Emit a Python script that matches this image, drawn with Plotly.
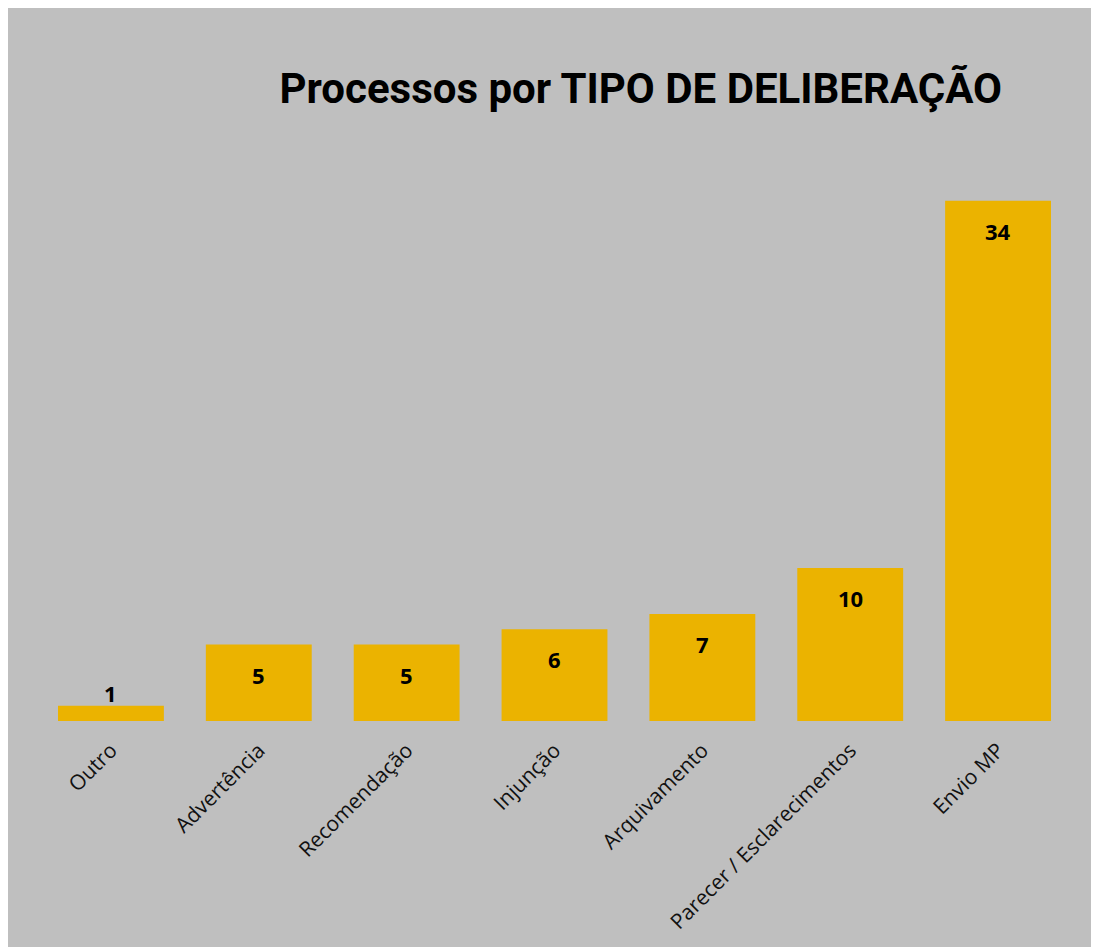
import plotly.graph_objects as go

categories = ['Outro', 'Advertência', 'Recomendação', 'Injunção',
              'Arquivamento', 'Parecer / Esclarecimentos', 'Envio MP']
counts = [1, 5, 5, 6, 7, 10, 34]

BG_COLOR = '#bfbfbf'
BAR_COLOR = '#ebb300'

fig = go.Figure(go.Bar(
    x=categories,
    y=counts,
    width=0.716,
    marker=dict(color=BAR_COLOR, line=dict(width=0)),
    hovertemplate='%{x}: %{y}<extra></extra>',
))

# data labels: inside end, except the tiny bar which gets its label above
for cat, val in zip(categories, counts):
    fig.add_annotation(
        x=cat, y=val, text=f'<b>{val}</b>', showarrow=False,
        yshift=-30 if val > 2 else 13,
        font=dict(size=22, color='#000000', family='Open Sans, sans-serif'),
    )

fig.update_layout(
    width=1091, height=939,
    paper_bgcolor=BG_COLOR,
    plot_bgcolor=BG_COLOR,
    margin=dict(l=29, r=27, t=152, b=226),
    title=dict(
        text='<b>Processos por TIPO DE DELIBERAÇÃO</b>',
        x=0.580, xref='container', xanchor='center',
        y=0.9148, yref='container', yanchor='middle',
        font=dict(size=42, color='#000000', family='Roboto, sans-serif'),
    ),
    showlegend=False,
    font=dict(family='Open Sans, sans-serif', color='#000000'),
)
fig.update_xaxes(
    showgrid=False, zeroline=False, showline=False,
    tickangle=-45, tickfont=dict(size=21, color='#111111'),
    ticks='', ticklabelstandoff=12,
)
fig.update_yaxes(
    showgrid=False, zeroline=False, showline=False,
    showticklabels=False, range=[0, 36.67],
)

fig.write_html('out.html')
